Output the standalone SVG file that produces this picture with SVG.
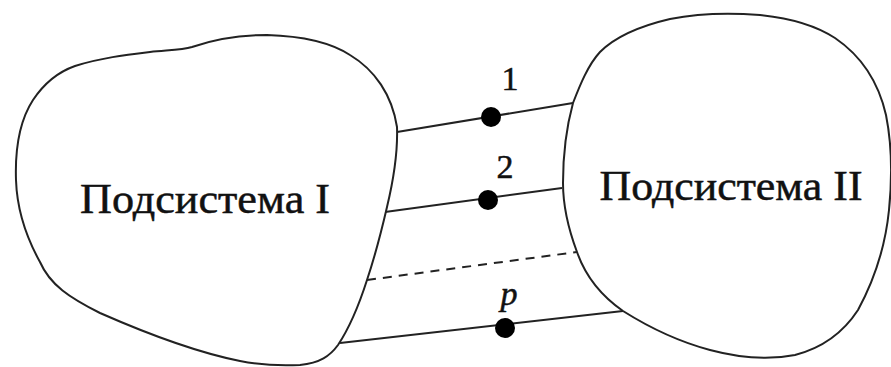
<svg xmlns="http://www.w3.org/2000/svg" width="891" height="367" viewBox="0 0 891 367">
<style>
.blob{fill:#fff;stroke:#222;stroke-width:2}
.ln{stroke:#222;stroke-width:2;fill:none}
.dash{stroke-dasharray:9 7}
.dot{fill:#000}
.lbl{font-family:'Liberation Serif','Times New Roman',serif;fill:#111;stroke:#111;stroke-width:0.5}
</style>
<rect width="891" height="367" fill="#fff"/>
<g id="connectors">
<line class="ln" x1="397" y1="132" x2="573" y2="103"/>
<line class="ln" x1="385" y1="212" x2="562" y2="188"/>
<line class="ln dash" x1="367" y1="280" x2="577" y2="252"/>
<line class="ln" x1="340" y1="343" x2="623" y2="311"/>
<circle class="dot" cx="491" cy="117" r="10"/>
<circle class="dot" cx="488" cy="200" r="10"/>
<circle class="dot" cx="505" cy="328" r="10"/>
<text class="lbl" x="510" y="90" font-size="34" text-anchor="middle">1</text>
<text class="lbl" x="505" y="178" font-size="34" text-anchor="middle">2</text>
<text class="lbl" x="509" y="305" font-size="34" font-style="italic" text-anchor="middle">p</text>
</g>
<g id="subsystem1">
<path class="blob" d="M192,47 C215,39 240,35 267,35 C300,36 330,42 350,55 C375,70 392,95 397,127 C398,155 393,182 387,207 C381,233 375,256 367,280 C359,305 350,327 338,345 C330,356 320,363 300,365 C280,366 260,365 240,361 C200,353 150,335 100,313 C70,298 50,285 40,262 C25,235 17,210 16,180 C15,150 20,120 33,100 C45,82 58,72 75,66 C100,58 125,55 150,52 C170,50 182,50 192,47 Z"/>
<text class="lbl" x="205" y="213" font-size="42" textLength="250" lengthAdjust="spacingAndGlyphs" text-anchor="middle">Подсистема I</text>
</g>
<g id="subsystem2">
<path class="blob" d="M573,103 C580,85 588,65 600,52 C615,37 640,26 670,19 C700,13 735,13 760,15 C790,18 815,25 835,38 C860,55 878,80 886,115 C892,145 892,180 889,210 C886,240 877,275 858,310 C843,333 822,348 795,355 C770,360 740,358 710,350 C680,342 650,328 623,311 C600,295 585,275 577,252 C568,228 563,205 563,183 C563,155 567,125 573,103 Z"/>
<text class="lbl" x="731" y="200" font-size="42" textLength="263" lengthAdjust="spacingAndGlyphs" text-anchor="middle">Подсистема II</text>
</g>
</svg>
